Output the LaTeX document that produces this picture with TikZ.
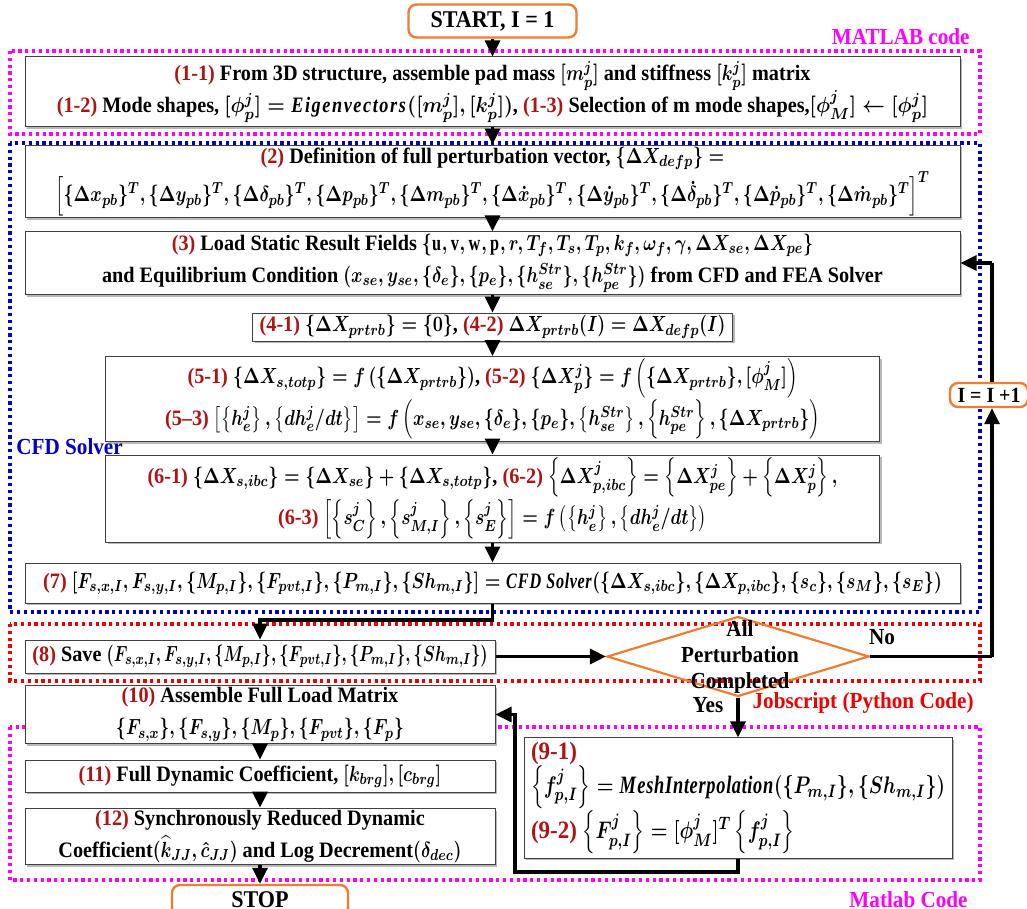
\documentclass[tikz,border=0pt]{standalone}
\usepackage{amsmath}
\usepackage{graphicx}
\usepackage{fontspec}
\setmainfont{Liberation Serif}[FakeStretch=0.92]
\usetikzlibrary{arrows.meta,shapes.geometric,shadows}
\definecolor{labred}{RGB}{175,20,20}
\definecolor{mag}{RGB}{255,0,255}
\definecolor{navy}{RGB}{0,0,205}
\definecolor{jred}{RGB}{240,0,0}
\definecolor{orng}{RGB}{237,125,49}
\newcommand{\lab}[1]{\textcolor{labred}{#1}}
\newcommand{\mm}[1]{\scalebox{0.8}[1]{$#1$}}
\newcommand{\mmn}[1]{\scalebox{0.74}[1]{$#1$}}
\newcommand{\mmw}[1]{\scalebox{0.9}[1]{$#1$}}
\newcommand{\spw}[1]{\textit{\addfontfeatures{LetterSpace=8}#1}}
\begin{document}
\begin{tikzpicture}[x=0.5pt,y=-0.5pt,
  font=\fontsize{11}{16}\selectfont\bfseries\boldmath,
  box/.style={draw=black!75, line width=0.5pt, fill=white, align=center, inner sep=1pt,
    drop shadow={shadow xshift=1.2pt,shadow yshift=-1.2pt,fill=black!55,opacity=0.5}},
  term/.style={draw=orng, line width=1.2pt, rounded corners=4pt, fill=white, align=center,
    font=\fontsize{12}{14}\selectfont\bfseries},
  frame/.style={line width=1.8pt, dash pattern=on 1.6pt off 1.8pt},
  arr/.style={line width=1.6pt, -{Triangle[length=8pt,width=7.5pt]}},
  flow/.style={line width=1.6pt},
  tag/.style={font=\fontsize{11.5}{13}\selectfont\bfseries, inner sep=0pt}
]
\useasboundingbox (0,0) rectangle (1027,909);

% frames
\draw[frame, mag] (10,51) rectangle (980,134);
\draw[frame, navy] (10,143) rectangle (980,612);
\draw[frame, jred] (10,624) rectangle (980,681);
\draw[frame, mag] (10,727) rectangle (980,880);

% labels
\node[tag, text=mag, anchor=east] (mlab1) at (970,37) {MATLAB code};
\node[tag, text=navy, anchor=west] (cfd) at (16,447) {CFD Solver};
\node[tag, text=jred, anchor=east] (jlab) at (974,703) {Jobscript (Python Code)};
\node[tag, text=mag, anchor=east] (mlab2) at (968,900) {Matlab Code};

% terminals
\node[term, minimum width=84pt, minimum height=13pt] (start) at (492.5,21) {START, I = 1};
\node[term, minimum width=88pt, minimum height=15pt] (stop) at (260,900) {STOP};
\node[term, minimum width=39pt, minimum height=12pt, inner sep=1pt, font=\fontsize{10.8}{13}\selectfont\bfseries] (inc) at (989,395) {I = I +1};

% boxes
\node[box, minimum width=467.5pt, minimum height=35pt] (b1) at (492.5,92)
 {\lab{(1-1)} From 3D structure, assemble pad mass \mm{[m_p^j]} and stiffness \mm{[k_p^j]} matrix\\
  \lab{(1-2)} Mode shapes, \mmw{[\phi_p^j]=\text{\spw{Eigenvectors}}([m_p^j],[k_p^j])}, \lab{(1-3)} Selection of m mode shapes,\mmw{[\phi_M^j]\leftarrow[\phi_p^j]}};

\node[box, minimum width=467.5pt, minimum height=32.5pt] (b2) at (492.5,181.5)
 {\lab{(2)} Definition of full perturbation vector, \mm{\{\Delta X_{defp}\}=}\\
  \mm{\left[\{\Delta x_{pb}\}^T,\{\Delta y_{pb}\}^T,\{\Delta\delta_{pb}\}^T,\{\Delta p_{pb}\}^T,\{\Delta m_{pb}\}^T,\{\Delta\dot x_{pb}\}^T,\{\Delta\dot y_{pb}\}^T,\{\Delta\dot\delta_{pb}\}^T,\{\Delta\dot p_{pb}\}^T,\{\Delta\dot m_{pb}\}^T\right]^T}};

\node[box, minimum width=467.5pt, minimum height=28pt] (b3) at (492.5,263)
 {\lab{(3)} Load Static Result Fields \mm{\{\mathrm{u,v,w,p},r,T_f,T_s,T_p,k_f,\omega_f,\gamma,\Delta X_{se},\Delta X_{pe}\}}\\
  and Equilibrium Condition \mm{(x_{se},y_{se},\{\delta_e\},\{p_e\},\{h_{se}^{Str}\},\{h_{pe}^{Str}\})} from CFD and FEA Solver};

\node[box, minimum width=240pt, minimum height=14pt] (b4) at (492.5,327)
 {\lab{(4-1)} \mm{\{\Delta X_{prtrb}\}=\{0\}}, \lab{(4-2)} \mm{\Delta X_{prtrb}(I)=\Delta X_{defp}(I)}};

\node[box, minimum width=387pt, minimum height=34pt] (b5) at (492.5,399)
 {\lab{(5-1)} \mm{\{\Delta X_{s,totp}\}=f\left(\{\Delta X_{prtrb}\}\right)}, \lab{(5-2)} \mm{\{\Delta X_p^j\}=f\left(\{\Delta X_{prtrb}\},[\phi_M^j]\right)}\\
  \lab{(5\textendash3)} \mm{\left[\left\{h_e^j\right\},\left\{dh_e^j/dt\right\}\right]=f\left(x_{se},y_{se},\{\delta_e\},\{p_e\},\left\{h_{se}^{Str}\right\},\left\{h_{pe}^{Str}\right\},\{\Delta X_{prtrb}\}\right)}};

\node[box, minimum width=387pt, minimum height=43.5pt] (b6) at (492.5,498.5)
 {\lab{(6-1)} \mm{\{\Delta X_{s,ibc}\}=\{\Delta X_{se}\}+\{\Delta X_{s,totp}\}}, \lab{(6-2)} \mm{\left\{\Delta X_{p,ibc}^j\right\}=\left\{\Delta X_{pe}^j\right\}+\left\{\Delta X_p^j\right\},}\\
  \lab{(6-3)} \mm{\left[\left\{s_C^j\right\},\left\{s_{M,I}^j\right\},\left\{s_E^j\right\}\right]=f\left(\left\{h_e^j\right\},\left\{dh_e^j/dt\right\}\right)}};

\node[box, minimum width=467.5pt, minimum height=20pt] (b7) at (492.5,583)
 {\lab{(7)} \mm{\left[F_{s,x,I},F_{s,y,I},\{M_{p,I}\},\{F_{pvt,I}\},\{P_{m,I}\},\{Sh_{m,I}\}\right]=\mathit{CFD\ Solver}(\{\Delta X_{s,ibc}\},\{\Delta X_{p,ibc}\},\{s_c\},\{s_M\},\{s_E\})}};

\node[box, minimum width=235pt, minimum height=16.5pt] (b8) at (260,656.5)
 {\lab{(8)} Save \mmn{(F_{s,x,I},F_{s,y,I},\{M_{p,I}\},\{F_{pvt,I}\},\{P_{m,I}\},\{Sh_{m,I}\})}};

\node[diamond, draw=orng, line width=1.1pt, minimum width=131pt, minimum height=40pt, inner sep=0pt] (dia) at (738,656.5) {};
\node[align=center, font=\fontsize{11.5}{13}\selectfont\bfseries] (dtext) at (740,657) {All\\Perturbation\\Completed};
\node[tag] (no) at (882,637) {No};
\node[tag] (yes) at (708,705) {Yes};

\node[box, minimum width=235pt, minimum height=27.5pt] (b10) at (260,714.5)
 {\lab{(10)} Assemble Full Load Matrix\\ \mm{\{F_{s,x}\},\{F_{s,y}\},\{M_p\},\{F_{pvt}\},\{F_p\}}};
\node[box, minimum width=235pt, minimum height=16pt] (b11) at (260,776)
 {\lab{(11)} Full Dynamic Coefficient, \mm{[k_{brg}],[c_{brg}]}};
\node[box, minimum width=235pt, minimum height=27.5pt] (b12) at (260,836.5)
 {\lab{(12)} Synchronously Reduced Dynamic\\ Coefficient\mm{(\widehat{k}_{JJ},\hat c_{JJ})} and Log Decrement\mm{(\delta_{dec})}};

\node[box, minimum width=214pt, minimum height=60pt, align=left, inner sep=2pt, font=\fontsize{12.5}{17}\selectfont\bfseries\boldmath] (b9) at (738,798)
 {\lab{(9-1)}\\ \mm{\left\{f_{p,I}^j\right\}=\mathit{MeshInterpolation}(\{P_{m,I}\},\{Sh_{m,I}\})}\\
  \lab{(9-2)} \mm{\left\{F_{p,I}^j\right\}=[\phi_M^j]^T\left\{f_{p,I}^j\right\}}};

% coordinates
\coordinate (c78) at (492.5,620);
\coordinate (c1) at (992,656.5);
\coordinate (c2) at (992,263);
\coordinate (l1) at (738,872);
\coordinate (l2) at (515,872);

% connectors
\draw[arr] (start.south) -- (b1.north);
\draw[arr] (b1.south) -- (b2.north);
\draw[arr] (b2.south) -- (b3.north);
\draw[arr] (b3.south) -- (b4.north);
\draw[arr] (b4.south) -- (b5.north);
\draw[arr] (b5.south) -- (b6.north);
\draw[arr] (b6.south) -- (b7.north);
\draw[arr] (b7.south) -- (c78) -| (b8.north);
\draw[arr] (b8.east) -- (dia.west);
\draw[flow] (dia.east) -- (c1);
\draw[arr] (c1) -- (c1 |- inc.south);
\draw[flow] (c2 |- inc.north) -- (c2);
\draw[arr] (c2) -- (b3.east);
\draw[arr] (dia.south) -- (b9.north);
\draw[arr] (b9.south) -- (l1) -- (l2) -- (l2 |- b10.east) -- (b10.east);
\draw[arr] (b10.south) -- (b11.north);
\draw[arr] (b11.south) -- (b12.north);
\draw[arr] (b12.south) -- (stop.north);
\end{tikzpicture}
\end{document}
